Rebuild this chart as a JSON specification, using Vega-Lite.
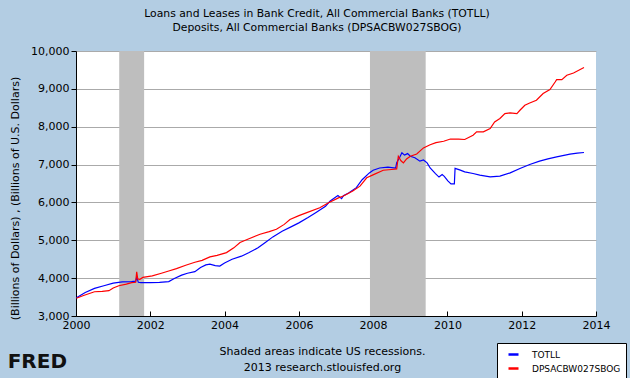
{
  "$schema": "https://vega.github.io/schema/vega-lite/v6.json",
  "width": 520,
  "height": 265,
  "autosize": {"type": "none"},
  "padding": {"left": 76, "top": 51, "right": 34, "bottom": 62},
  "background": "#B3CDE3",
  "config": {
    "view": {"fill": "#FFFFFF", "stroke": null},
    "font": "DejaVu Sans",
    "axis": {"labelFont": "DejaVu Sans", "titleFont": "DejaVu Sans", "labelColor": "#000000", "titleColor": "#000000", "domainColor": "#000000", "tickColor": "#000000", "titleFontWeight": "normal"}
  },
  "title": {
    "text": ["Loans and Leases in Bank Credit, All Commercial Banks (TOTLL)", "Deposits, All Commercial Banks (DPSACBW027SBOG)"],
    "font": "DejaVu Sans",
    "fontSize": 10.8,
    "fontWeight": "normal",
    "color": "#000000",
    "anchor": "middle",
    "frame": "group",
    "dx": -19,
    "offset": 12,
    "lineHeight": 14
  },
  "datasets": {
    "rec": [
      {"start": "2001-03-01", "end": "2001-11-01"},
      {"start": "2007-12-01", "end": "2009-06-01"}
    ],
    "series": [
      {"date": "2000-01-05", "series": "TOTLL", "value": 3480},
      {"date": "2000-04-01", "series": "TOTLL", "value": 3620},
      {"date": "2000-07-01", "series": "TOTLL", "value": 3730},
      {"date": "2000-10-01", "series": "TOTLL", "value": 3800},
      {"date": "2001-01-01", "series": "TOTLL", "value": 3870},
      {"date": "2001-04-01", "series": "TOTLL", "value": 3900},
      {"date": "2001-07-01", "series": "TOTLL", "value": 3910},
      {"date": "2001-08-10", "series": "TOTLL", "value": 3920},
      {"date": "2001-08-20", "series": "TOTLL", "value": 4030},
      {"date": "2001-09-05", "series": "TOTLL", "value": 3890},
      {"date": "2001-10-01", "series": "TOTLL", "value": 3880},
      {"date": "2002-01-01", "series": "TOTLL", "value": 3880},
      {"date": "2002-04-01", "series": "TOTLL", "value": 3890},
      {"date": "2002-07-01", "series": "TOTLL", "value": 3910},
      {"date": "2002-08-25", "series": "TOTLL", "value": 3990},
      {"date": "2002-11-05", "series": "TOTLL", "value": 4080},
      {"date": "2003-01-01", "series": "TOTLL", "value": 4130},
      {"date": "2003-03-15", "series": "TOTLL", "value": 4170},
      {"date": "2003-05-10", "series": "TOTLL", "value": 4280},
      {"date": "2003-07-01", "series": "TOTLL", "value": 4350},
      {"date": "2003-08-10", "series": "TOTLL", "value": 4370},
      {"date": "2003-10-01", "series": "TOTLL", "value": 4330},
      {"date": "2003-11-15", "series": "TOTLL", "value": 4320},
      {"date": "2004-01-01", "series": "TOTLL", "value": 4400},
      {"date": "2004-03-15", "series": "TOTLL", "value": 4500},
      {"date": "2004-06-15", "series": "TOTLL", "value": 4580},
      {"date": "2004-08-25", "series": "TOTLL", "value": 4670},
      {"date": "2004-11-25", "series": "TOTLL", "value": 4800},
      {"date": "2005-02-05", "series": "TOTLL", "value": 4940},
      {"date": "2005-04-20", "series": "TOTLL", "value": 5090},
      {"date": "2005-07-20", "series": "TOTLL", "value": 5240},
      {"date": "2005-10-20", "series": "TOTLL", "value": 5360},
      {"date": "2006-01-01", "series": "TOTLL", "value": 5460},
      {"date": "2006-04-01", "series": "TOTLL", "value": 5600},
      {"date": "2006-06-15", "series": "TOTLL", "value": 5730},
      {"date": "2006-09-20", "series": "TOTLL", "value": 5900},
      {"date": "2006-11-05", "series": "TOTLL", "value": 6040},
      {"date": "2007-01-20", "series": "TOTLL", "value": 6180},
      {"date": "2007-02-25", "series": "TOTLL", "value": 6100},
      {"date": "2007-03-15", "series": "TOTLL", "value": 6180},
      {"date": "2007-05-05", "series": "TOTLL", "value": 6250},
      {"date": "2007-07-20", "series": "TOTLL", "value": 6390},
      {"date": "2007-09-15", "series": "TOTLL", "value": 6600},
      {"date": "2007-11-25", "series": "TOTLL", "value": 6780},
      {"date": "2008-01-01", "series": "TOTLL", "value": 6850},
      {"date": "2008-03-05", "series": "TOTLL", "value": 6910},
      {"date": "2008-05-25", "series": "TOTLL", "value": 6930},
      {"date": "2008-08-10", "series": "TOTLL", "value": 6910},
      {"date": "2008-08-20", "series": "TOTLL", "value": 7050},
      {"date": "2008-09-20", "series": "TOTLL", "value": 7200},
      {"date": "2008-10-10", "series": "TOTLL", "value": 7310},
      {"date": "2008-11-05", "series": "TOTLL", "value": 7250},
      {"date": "2008-12-05", "series": "TOTLL", "value": 7290},
      {"date": "2009-01-01", "series": "TOTLL", "value": 7220},
      {"date": "2009-02-15", "series": "TOTLL", "value": 7180},
      {"date": "2009-04-05", "series": "TOTLL", "value": 7090},
      {"date": "2009-05-10", "series": "TOTLL", "value": 7120},
      {"date": "2009-06-15", "series": "TOTLL", "value": 7045},
      {"date": "2009-07-15", "series": "TOTLL", "value": 6910},
      {"date": "2009-09-05", "series": "TOTLL", "value": 6760},
      {"date": "2009-10-10", "series": "TOTLL", "value": 6670},
      {"date": "2009-11-10", "series": "TOTLL", "value": 6735},
      {"date": "2009-12-01", "series": "TOTLL", "value": 6690},
      {"date": "2010-01-05", "series": "TOTLL", "value": 6570},
      {"date": "2010-02-05", "series": "TOTLL", "value": 6490},
      {"date": "2010-03-10", "series": "TOTLL", "value": 6490},
      {"date": "2010-03-17", "series": "TOTLL", "value": 6900},
      {"date": "2010-05-01", "series": "TOTLL", "value": 6860},
      {"date": "2010-06-20", "series": "TOTLL", "value": 6807},
      {"date": "2010-09-10", "series": "TOTLL", "value": 6765},
      {"date": "2010-11-15", "series": "TOTLL", "value": 6720},
      {"date": "2011-02-25", "series": "TOTLL", "value": 6675},
      {"date": "2011-06-01", "series": "TOTLL", "value": 6694},
      {"date": "2011-09-10", "series": "TOTLL", "value": 6781},
      {"date": "2011-12-15", "series": "TOTLL", "value": 6897},
      {"date": "2012-03-20", "series": "TOTLL", "value": 7003},
      {"date": "2012-06-25", "series": "TOTLL", "value": 7090},
      {"date": "2012-09-15", "series": "TOTLL", "value": 7150},
      {"date": "2012-12-10", "series": "TOTLL", "value": 7203},
      {"date": "2013-04-20", "series": "TOTLL", "value": 7274},
      {"date": "2013-07-01", "series": "TOTLL", "value": 7300},
      {"date": "2013-09-05", "series": "TOTLL", "value": 7319},
      {"date": "2000-01-05", "series": "DPSACBW027SBOG", "value": 3470},
      {"date": "2000-03-15", "series": "DPSACBW027SBOG", "value": 3540},
      {"date": "2000-07-01", "series": "DPSACBW027SBOG", "value": 3640},
      {"date": "2000-09-15", "series": "DPSACBW027SBOG", "value": 3650},
      {"date": "2000-11-20", "series": "DPSACBW027SBOG", "value": 3670},
      {"date": "2001-01-01", "series": "DPSACBW027SBOG", "value": 3740},
      {"date": "2001-02-25", "series": "DPSACBW027SBOG", "value": 3800},
      {"date": "2001-05-10", "series": "DPSACBW027SBOG", "value": 3840},
      {"date": "2001-07-01", "series": "DPSACBW027SBOG", "value": 3880},
      {"date": "2001-08-10", "series": "DPSACBW027SBOG", "value": 3890},
      {"date": "2001-08-20", "series": "DPSACBW027SBOG", "value": 4165},
      {"date": "2001-08-30", "series": "DPSACBW027SBOG", "value": 3980},
      {"date": "2001-09-20", "series": "DPSACBW027SBOG", "value": 3970},
      {"date": "2001-10-20", "series": "DPSACBW027SBOG", "value": 4020},
      {"date": "2002-01-20", "series": "DPSACBW027SBOG", "value": 4060},
      {"date": "2002-04-20", "series": "DPSACBW027SBOG", "value": 4130},
      {"date": "2002-07-01", "series": "DPSACBW027SBOG", "value": 4190},
      {"date": "2002-09-15", "series": "DPSACBW027SBOG", "value": 4250},
      {"date": "2002-12-15", "series": "DPSACBW027SBOG", "value": 4340},
      {"date": "2003-03-15", "series": "DPSACBW027SBOG", "value": 4420},
      {"date": "2003-05-25", "series": "DPSACBW027SBOG", "value": 4470},
      {"date": "2003-08-10", "series": "DPSACBW027SBOG", "value": 4560},
      {"date": "2003-10-20", "series": "DPSACBW027SBOG", "value": 4600},
      {"date": "2004-01-20", "series": "DPSACBW027SBOG", "value": 4675},
      {"date": "2004-04-01", "series": "DPSACBW027SBOG", "value": 4800},
      {"date": "2004-06-01", "series": "DPSACBW027SBOG", "value": 4940},
      {"date": "2004-08-10", "series": "DPSACBW027SBOG", "value": 5020},
      {"date": "2004-12-15", "series": "DPSACBW027SBOG", "value": 5160},
      {"date": "2005-03-15", "series": "DPSACBW027SBOG", "value": 5230},
      {"date": "2005-05-25", "series": "DPSACBW027SBOG", "value": 5290},
      {"date": "2005-08-10", "series": "DPSACBW027SBOG", "value": 5420},
      {"date": "2005-10-05", "series": "DPSACBW027SBOG", "value": 5550},
      {"date": "2006-01-01", "series": "DPSACBW027SBOG", "value": 5650},
      {"date": "2006-03-20", "series": "DPSACBW027SBOG", "value": 5730},
      {"date": "2006-07-25", "series": "DPSACBW027SBOG", "value": 5860},
      {"date": "2006-10-20", "series": "DPSACBW027SBOG", "value": 5990},
      {"date": "2007-01-25", "series": "DPSACBW027SBOG", "value": 6120},
      {"date": "2007-03-15", "series": "DPSACBW027SBOG", "value": 6170},
      {"date": "2007-06-15", "series": "DPSACBW027SBOG", "value": 6300},
      {"date": "2007-08-25", "series": "DPSACBW027SBOG", "value": 6430},
      {"date": "2007-10-30", "series": "DPSACBW027SBOG", "value": 6650},
      {"date": "2008-01-05", "series": "DPSACBW027SBOG", "value": 6735},
      {"date": "2008-04-10", "series": "DPSACBW027SBOG", "value": 6850},
      {"date": "2008-07-01", "series": "DPSACBW027SBOG", "value": 6870},
      {"date": "2008-08-20", "series": "DPSACBW027SBOG", "value": 6885},
      {"date": "2008-09-05", "series": "DPSACBW027SBOG", "value": 7220},
      {"date": "2008-10-01", "series": "DPSACBW027SBOG", "value": 7100},
      {"date": "2008-10-25", "series": "DPSACBW027SBOG", "value": 7045},
      {"date": "2008-11-25", "series": "DPSACBW027SBOG", "value": 7150},
      {"date": "2009-01-01", "series": "DPSACBW027SBOG", "value": 7220},
      {"date": "2009-03-05", "series": "DPSACBW027SBOG", "value": 7280},
      {"date": "2009-05-10", "series": "DPSACBW027SBOG", "value": 7440},
      {"date": "2009-07-15", "series": "DPSACBW027SBOG", "value": 7525},
      {"date": "2009-09-10", "series": "DPSACBW027SBOG", "value": 7580},
      {"date": "2009-11-25", "series": "DPSACBW027SBOG", "value": 7615},
      {"date": "2010-01-30", "series": "DPSACBW027SBOG", "value": 7675},
      {"date": "2010-04-20", "series": "DPSACBW027SBOG", "value": 7670},
      {"date": "2010-06-20", "series": "DPSACBW027SBOG", "value": 7662},
      {"date": "2010-09-10", "series": "DPSACBW027SBOG", "value": 7776},
      {"date": "2010-10-15", "series": "DPSACBW027SBOG", "value": 7863},
      {"date": "2010-12-20", "series": "DPSACBW027SBOG", "value": 7863},
      {"date": "2011-02-25", "series": "DPSACBW027SBOG", "value": 7952},
      {"date": "2011-04-10", "series": "DPSACBW027SBOG", "value": 8127},
      {"date": "2011-06-01", "series": "DPSACBW027SBOG", "value": 8216},
      {"date": "2011-07-20", "series": "DPSACBW027SBOG", "value": 8348},
      {"date": "2011-09-10", "series": "DPSACBW027SBOG", "value": 8364},
      {"date": "2011-11-15", "series": "DPSACBW027SBOG", "value": 8348},
      {"date": "2011-12-15", "series": "DPSACBW027SBOG", "value": 8435},
      {"date": "2012-02-01", "series": "DPSACBW027SBOG", "value": 8567},
      {"date": "2012-03-20", "series": "DPSACBW027SBOG", "value": 8628},
      {"date": "2012-05-25", "series": "DPSACBW027SBOG", "value": 8700},
      {"date": "2012-07-30", "series": "DPSACBW027SBOG", "value": 8876},
      {"date": "2012-10-05", "series": "DPSACBW027SBOG", "value": 8982},
      {"date": "2012-11-25", "series": "DPSACBW027SBOG", "value": 9182},
      {"date": "2012-12-10", "series": "DPSACBW027SBOG", "value": 9245},
      {"date": "2013-01-30", "series": "DPSACBW027SBOG", "value": 9245},
      {"date": "2013-03-20", "series": "DPSACBW027SBOG", "value": 9359},
      {"date": "2013-05-25", "series": "DPSACBW027SBOG", "value": 9420},
      {"date": "2013-09-05", "series": "DPSACBW027SBOG", "value": 9562}
    ]
  },
  "layer": [
    {
      "data": {"name": "rec"},
      "mark": {"type": "rect", "color": "#BEBEBE"},
      "encoding": {
        "x": {
          "field": "start",
          "type": "temporal",
          "scale": {"type": "utc", "domain": [{"year": 2000, "utc": true}, {"year": 2014, "utc": true}], "nice": false},
          "axis": {
            "values": [{"year": 2000, "utc": true}, {"year": 2002, "utc": true}, {"year": 2004, "utc": true}, {"year": 2006, "utc": true}, {"year": 2008, "utc": true}, {"year": 2010, "utc": true}, {"year": 2012, "utc": true}, {"year": 2014, "utc": true}],
            "format": "%Y",
            "labelFontSize": 11,
            "labelFlush": false,
            "labelOverlap": false,
            "tickSize": -5,
            "labelPadding": 8,
            "grid": false,
            "title": ["Shaded areas indicate US recessions.", "2013 research.stlouisfed.org"],
            "titleFontSize": 11,
            "titleX": 246,
            "titleY": 29,
            "titleAlign": "center",
            "titleBaseline": "top",
            "titleLineHeight": 16
          }
        },
        "x2": {"field": "end"}
      }
    },
    {
      "data": {"name": "series"},
      "mark": {"type": "line", "strokeWidth": 1.2},
      "encoding": {
        "x": {
          "field": "date",
          "type": "temporal",
          "axis": {
            "values": [{"year": 2000, "utc": true}, {"year": 2002, "utc": true}, {"year": 2004, "utc": true}, {"year": 2006, "utc": true}, {"year": 2008, "utc": true}, {"year": 2010, "utc": true}, {"year": 2012, "utc": true}, {"year": 2014, "utc": true}],
            "format": "%Y",
            "labelFontSize": 11,
            "labelFlush": false,
            "labelOverlap": false,
            "tickSize": -5,
            "labelPadding": 8,
            "grid": false,
            "title": ["Shaded areas indicate US recessions.", "2013 research.stlouisfed.org"],
            "titleFontSize": 11,
            "titleX": 246,
            "titleY": 29,
            "titleAlign": "center",
            "titleBaseline": "top",
            "titleLineHeight": 16
          }
        },
        "y": {
          "field": "value",
          "type": "quantitative",
          "scale": {"domain": [3000, 10000], "nice": false, "zero": false},
          "axis": {
            "values": [3000, 4000, 5000, 6000, 7000, 8000, 9000, 10000],
            "format": ",d",
            "labelFontSize": 11,
            "labelOverlap": false,
            "tickSize": 5,
            "labelPadding": 2,
            "grid": true,
            "gridColor": "#AAAAAA",
            "gridWidth": 1,
            "title": "(Billions of Dollars) , (Billions of U.S. Dollars)",
            "titleFontSize": 11,
            "titleX": -61,
            "titleY": 147,
            "titleAngle": -90,
            "titleAlign": "center",
            "titleBaseline": "middle"
          }
        },
        "color": {
          "field": "series",
          "type": "nominal",
          "scale": {"domain": ["TOTLL", "DPSACBW027SBOG"], "range": ["#0000FF", "#FF0000"]},
          "legend": {
            "title": null,
            "orient": "none",
            "legendX": 421,
            "legendY": 292,
            "fillColor": "#FFFFFF",
            "strokeColor": "#000000",
            "padding": 5,
            "symbolType": "stroke",
            "symbolSize": 100,
            "symbolStrokeWidth": 2.5,
            "symbolOffset": 5,
            "labelFont": "DejaVu Sans",
            "labelFontSize": 9,
            "labelColor": "#000000",
            "labelOffset": 12,
            "rowPadding": 2
          }
        },
        "detail": {"field": "series"}
      }
    },
    {
      "data": {"values": [{"logo": "FRED"}]},
      "mark": {"type": "text", "font": "DejaVu Sans", "fontWeight": "bold", "fontSize": 20, "color": "#111111", "align": "right", "baseline": "middle", "dx": -9, "dy": 46},
      "encoding": {
        "x": {
          "datum": {"year": 2000, "utc": true},
          "type": "temporal",
          "axis": {
            "values": [{"year": 2000, "utc": true}, {"year": 2002, "utc": true}, {"year": 2004, "utc": true}, {"year": 2006, "utc": true}, {"year": 2008, "utc": true}, {"year": 2010, "utc": true}, {"year": 2012, "utc": true}, {"year": 2014, "utc": true}],
            "format": "%Y",
            "labelFontSize": 11,
            "labelFlush": false,
            "labelOverlap": false,
            "tickSize": -5,
            "labelPadding": 8,
            "grid": false,
            "title": ["Shaded areas indicate US recessions.", "2013 research.stlouisfed.org"],
            "titleFontSize": 11,
            "titleX": 246,
            "titleY": 29,
            "titleAlign": "center",
            "titleBaseline": "top",
            "titleLineHeight": 16
          }
        },
        "y": {
          "datum": 3000,
          "type": "quantitative",
          "axis": {
            "values": [3000, 4000, 5000, 6000, 7000, 8000, 9000, 10000],
            "format": ",d",
            "labelFontSize": 11,
            "labelOverlap": false,
            "tickSize": 5,
            "labelPadding": 2,
            "grid": true,
            "gridColor": "#AAAAAA",
            "gridWidth": 1,
            "title": "(Billions of Dollars) , (Billions of U.S. Dollars)",
            "titleFontSize": 11,
            "titleX": -61,
            "titleY": 147,
            "titleAngle": -90,
            "titleAlign": "center",
            "titleBaseline": "middle"
          }
        },
        "text": {"field": "logo"}
      }
    }
  ]
}
